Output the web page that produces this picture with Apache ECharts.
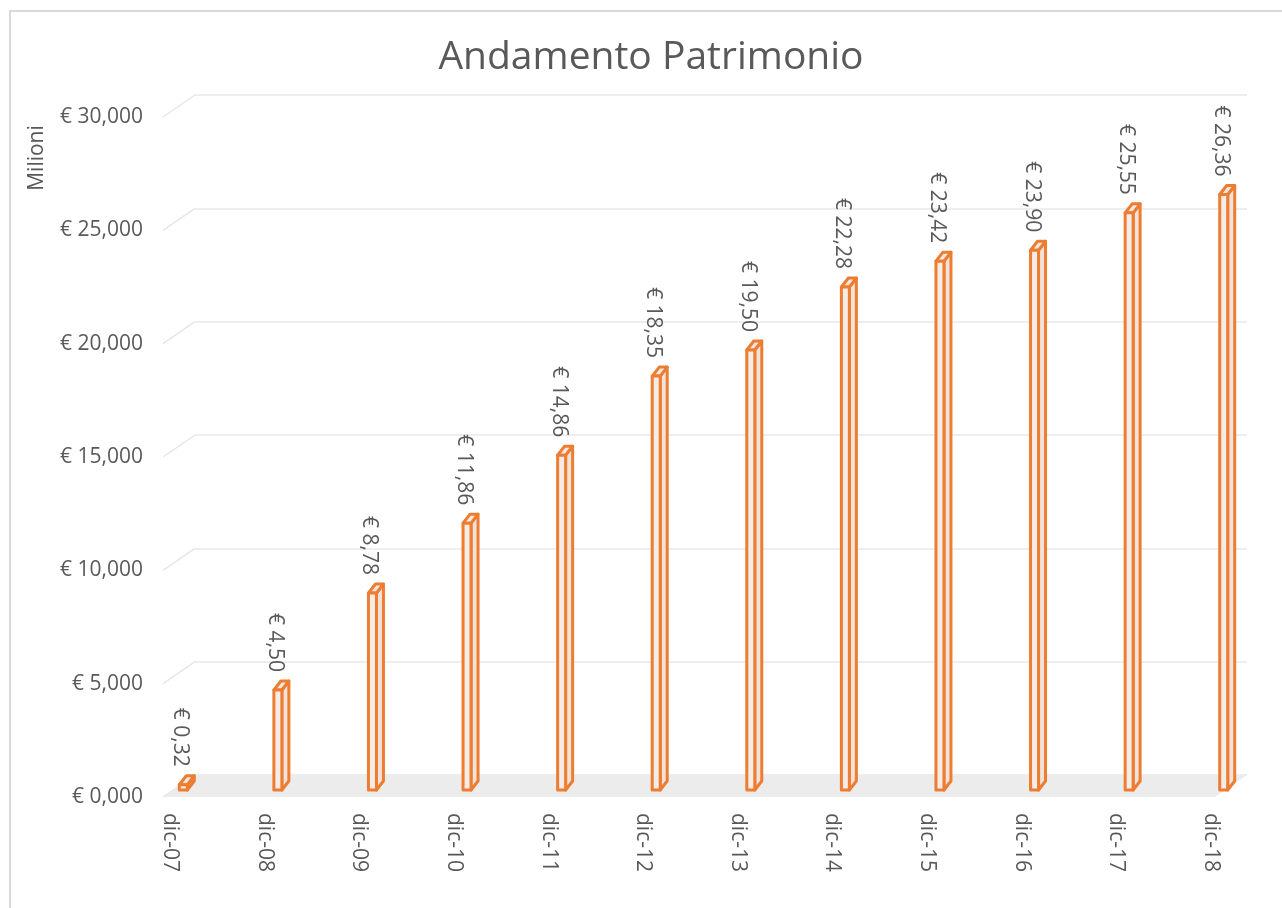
<!DOCTYPE html>
<html>
<head>
<meta charset="utf-8">
<script src="https://cdn.jsdelivr.net/npm/echarts@6/dist/echarts.min.js"></script>
<style>
  html, body { margin: 0; padding: 0; background: #fff; }
  #chart { width: 1282px; height: 908px; }
</style>
</head>
<body>
<div id="chart"></div>
<script>
// dati (milioni di euro)
const categories = ['dic-07', 'dic-08', 'dic-09', 'dic-10', 'dic-11', 'dic-12', 'dic-13', 'dic-14', 'dic-15', 'dic-16', 'dic-17', 'dic-18'];
const values = [0.32, 4.50, 8.78, 11.86, 14.86, 18.35, 19.50, 22.28, 23.42, 23.90, 25.55, 26.36];
const yTicks = [0, 5, 10, 15, 20, 25, 30];

const FONT = '"Open Sans", "DejaVu Sans", sans-serif';
const GREY = '#595959';
const ORANGE = '#ed7d31';
// profondita' della vista 3D
const DEPTH_X = -32, DEPTH_Y = 22;

const chart = echarts.init(document.getElementById('chart'));

const fmtAxis = v => '€ ' + v.toFixed(3).replace('.', ',');
const fmtLabel = v => '€ ' + v.toFixed(2).replace('.', ',');

// parete laterale e pavimento
function renderWalls(params, api) {
  const v = api.value(0);
  const back = api.coord([0, v]);
  const children = [];
  if (params.dataIndex === 0) {
    const br = api.coord([1, 0]);
    children.push({
      type: 'polygon',
      shape: { points: [back, br, [br[0] + DEPTH_X, br[1] + DEPTH_Y], [back[0] + DEPTH_X, back[1] + DEPTH_Y]] },
      style: { fill: '#ececec' }
    });
  }
  children.push({
    type: 'line',
    shape: { x1: back[0], y1: back[1], x2: back[0] + DEPTH_X, y2: back[1] + DEPTH_Y },
    style: { stroke: '#e6e6e6', lineWidth: 1.5 }
  });
  return { type: 'group', children };
}

// barre 3D sottili
function renderBar(params, api) {
  const idx = api.value(0);
  const v = api.value(1);
  const b = api.coord([idx, 0]);
  const t = api.coord([idx, v]);
  const w = 8, dx = 7, dy = -9;
  const L = b[0] - w / 2, R = b[0] + w / 2, T = t[1], B = b[1] - 2;
  const st = { stroke: ORANGE, lineWidth: 3, lineJoin: 'round' };
  return {
    type: 'group',
    children: [
      { type: 'polygon', shape: { points: [[R, T], [R + dx, T + dy], [R + dx, B + dy], [R, B]] },
        style: Object.assign({ fill: '#f1e2db' }, st) },
      { type: 'polygon', shape: { points: [[L, T], [L + dx, T + dy], [R + dx, T + dy], [R, T]] },
        style: Object.assign({ fill: '#f4e6e0' }, st) },
      { type: 'rect', shape: { x: L, y: T, width: w, height: B - T },
        style: Object.assign({ fill: '#f5ebe7' }, st) },
      { type: 'text', x: b[0] - 3, y: T - 18, rotation: -Math.PI / 2,
        style: { text: fmtLabel(v), align: 'right', verticalAlign: 'middle',
                 fill: GREY, fontSize: 21, fontFamily: FONT } }
    ]
  };
}

const option = {
  animation: false,
  textStyle: { fontFamily: FONT },
  graphic: [
    { type: 'rect', shape: { x: 10, y: 11, width: 1300, height: 1000 },
      style: { fill: 'none', stroke: '#d9d9d9', lineWidth: 2 }, silent: true },
    { type: 'text', x: 651, y: 58,
      style: { text: 'Andamento Patrimonio', fontSize: 39, fontFamily: FONT, fill: GREY,
               textAlign: 'center', textVerticalAlign: 'middle' } },
    { type: 'text', x: 37, y: 158, rotation: Math.PI / 2,
      style: { text: 'Milioni', fontSize: 21, fontFamily: FONT, fill: GREY,
               textAlign: 'center', textVerticalAlign: 'middle' } }
  ],
  grid: [
    { left: 195, right: 35, top: 95, bottom: 133 },     // parete di fondo
    { left: 136, width: 1135, top: 112, bottom: 116 },  // barre
    { left: 163, right: 67, top: 117, bottom: 111 },    // etichette asse y (fronte)
    { left: 123, width: 1135, top: 117, bottom: 111 }   // etichette categorie
  ],
  xAxis: [
    { gridIndex: 0, type: 'value', min: 0, max: 1, show: false },
    { gridIndex: 1, type: 'category', data: categories, show: false },
    { gridIndex: 2, type: 'value', min: 0, max: 1, show: false },
    { gridIndex: 3, type: 'category', data: categories,
      axisLine: { show: false }, axisTick: { show: false },
      axisLabel: { rotate: -90, margin: 16, color: GREY, fontSize: 21, fontFamily: FONT, interval: 0 } }
  ],
  yAxis: [
    { gridIndex: 0, type: 'value', min: 0, max: 30, interval: 5,
      axisLine: { show: false }, axisTick: { show: false }, axisLabel: { show: false },
      splitLine: { lineStyle: { color: '#e8e8e8', width: 1.5 } } },
    { gridIndex: 1, type: 'value', min: 0, max: 30, interval: 5, show: false },
    { gridIndex: 2, type: 'value', min: 0, max: 30, interval: 5,
      axisLine: { show: false }, axisTick: { show: false }, splitLine: { show: false },
      axisLabel: { margin: 20, color: GREY, fontSize: 21, fontFamily: FONT, formatter: fmtAxis } },
    { gridIndex: 3, type: 'value', min: 0, max: 30, show: false }
  ],
  series: [
    { type: 'custom', xAxisIndex: 0, yAxisIndex: 0, silent: true,
      data: yTicks.map(v => [v]), encode: { y: 0 }, renderItem: renderWalls },
    { type: 'custom', xAxisIndex: 1, yAxisIndex: 1,
      data: values.map((v, i) => [i, v]), encode: { x: 0, y: 1 }, renderItem: renderBar }
  ]
};

chart.setOption(option);
</script>
</body>
</html>
